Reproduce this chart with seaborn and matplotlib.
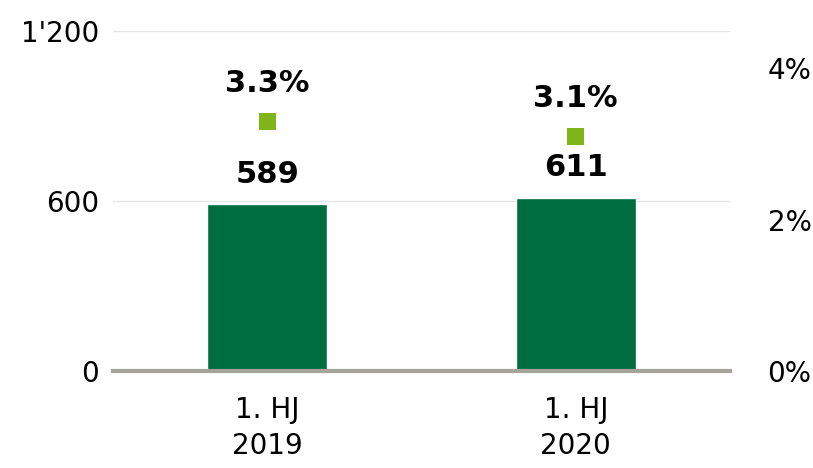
import pandas as pd
import matplotlib.pyplot as plt
import seaborn as sns

# Chart data
periods = ["1. HJ\n2019", "1. HJ\n2020"]
values = [589, 611]
rates = [3.3, 3.1]
value_labels = ["589", "611"]
rate_labels = ["3.3%", "3.1%"]
left_ticks = [0, 600, 1200]
left_ticklabels = ["0", "600", "1'200"]
right_ticks = [0, 2, 4]
right_ticklabels = ["0%", "2%", "4%"]

df = pd.DataFrame({"period": periods, "value": values, "rate": rates})

sns.set_theme(style="white")
plt.rcParams['font.family'] = ['DejaVu Sans']

fig = plt.figure(figsize=(8.13, 4.68), dpi=100)
ax = fig.add_axes([0.139, 0.207, 0.759, 0.727])

sns.barplot(data=df, x="period", y="value", color="#006d3f", width=0.39,
            saturation=1, ax=ax, zorder=3)
ax.set_xlim(-0.5, 1.5)
ax.set_ylim(0, 1200)
ax.set_yticks(left_ticks)
ax.set_yticklabels(left_ticklabels, fontsize=20)
ax.yaxis.grid(True, color="#e6e6e6", linewidth=1)
ax.set_axisbelow(True)
ax.set_xlabel("")
ax.set_ylabel("")
ax.tick_params(axis="x", labelsize=20, length=0, pad=18, labelcolor="black")
ax.tick_params(axis="y", length=0, pad=10, labelcolor="black")
for lbl in ax.get_xticklabels():
    lbl.set_linespacing(1.35)
for s in ["top", "right", "left"]:
    ax.spines[s].set_visible(False)
ax.spines["bottom"].set_color("#a6a29c")
ax.spines["bottom"].set_linewidth(3)
ax.spines["bottom"].set_zorder(5)

for i, v in enumerate(values):
    ax.text(i, v + 55, value_labels[i], ha="center", va="bottom",
            fontsize=22, fontweight="bold", color="black")

ax2 = ax.twinx()
sns.scatterplot(data=df, x="period", y="rate", marker="s", s=150,
                color="#80b51a", edgecolor="none", ax=ax2, zorder=4)
ax2.set_ylim(0, 4.49)
ax2.set_xlim(-0.5, 1.5)
ax2.set_yticks(right_ticks)
ax2.set_yticklabels(right_ticklabels, fontsize=20)
ax2.tick_params(axis="y", length=0, pad=27, labelcolor="black")
ax2.set_ylabel("")
ax2.set_xlabel("")
for s in ["top", "right", "left", "bottom"]:
    ax2.spines[s].set_visible(False)

for i, r in enumerate(rates):
    ax2.text(i, r + 0.3, rate_labels[i], ha="center", va="bottom",
             fontsize=22, fontweight="bold", color="black")

fig.savefig("out.png", dpi=100)
